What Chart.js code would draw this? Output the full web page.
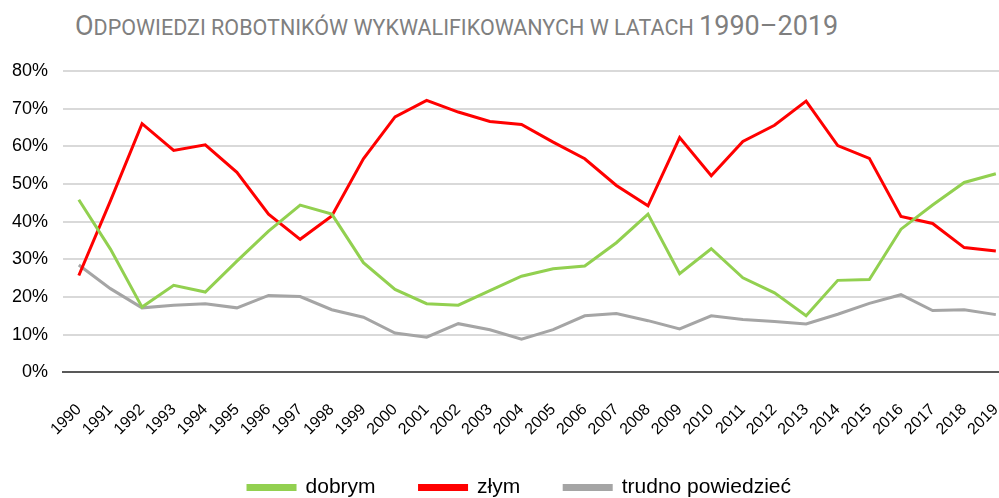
<!DOCTYPE html>
<html>
<head>
<meta charset="utf-8">
<script src="https://cdn.jsdelivr.net/npm/chart.js@4"></script>
<style>
	html, body { margin: 0; padding: 0; background: #fff; overflow: hidden; }
	#wrap { position: relative; width: 999px; height: 498px; }
	#tytul {
		position: absolute; left: 75px; top: 10px;
		font-family: Roboto, "Liberation Sans", sans-serif;
		color: #7f7f7f; font-size: 21.5px; white-space: nowrap;
	}
	#tytul .duze { font-size: 27px; }
	canvas { position: absolute; left: 0; top: 0; }
</style>
</head>
<body>
<div id="wrap">
	<div id="tytul"><span class="duze">O</span>DPOWIEDZI ROBOTNIKÓW WYKWALIFIKOWANYCH W LATACH <span class="duze">1990–2019</span></div>
	<canvas id="wykres" width="999" height="498"></canvas>
</div>
<script>
// Lata badania
const lata = [
	1990, 1991, 1992, 1993, 1994, 1995, 1996, 1997, 1998, 1999,
	2000, 2001, 2002, 2003, 2004, 2005, 2006, 2007, 2008, 2009,
	2010, 2011, 2012, 2013, 2014, 2015, 2016, 2017, 2018, 2019,
];

// Odpowiedzi w procentach
const dobrym = [
	45.8, 32.7, 17.3, 23.1, 21.3, 29.5, 37.5, 44.4, 42.0, 29.1,
	22.0, 18.2, 17.8, 21.7, 25.5, 27.5, 28.2, 34.4, 42.0, 26.2,
	32.8, 25.1, 21.1, 15.0, 24.4, 24.6, 38.0, 44.4, 50.4, 52.7,
];
const zlym = [
	25.7, 45.5, 66.0, 58.9, 60.4, 53.1, 42.0, 35.3, 41.5, 56.7,
	67.8, 72.2, 69.1, 66.6, 65.8, 61.1, 56.7, 49.6, 44.2, 62.3,
	52.2, 61.3, 65.6, 72.0, 60.2, 56.8, 41.4, 39.5, 33.1, 32.2,
];
const trudno = [
	28.5, 22.2, 17.1, 17.8, 18.2, 17.1, 20.4, 20.1, 16.6, 14.6,
	10.4, 9.3, 12.9, 11.3, 8.8, 11.3, 15.0, 15.6, 13.7, 11.5,
	15.0, 14.0, 13.5, 12.8, 15.4, 18.3, 20.6, 16.4, 16.6, 15.3,
];

// Podziałka osi Y
const podzialkaY = [0, 10, 20, 30, 40, 50, 60, 70, 80];

function punkty(wartosci) {
	return lata.map((rok, i) => ({ x: rok, y: wartosci[i] }));
}

function seria(label, wartosci, kolor) {
	return {
		label: label,
		data: punkty(wartosci),
		borderColor: kolor,
		backgroundColor: kolor,
		borderWidth: 3,
		pointRadius: 0,
		tension: 0,
	};
}

// Przesunięcie legendy (w oryginale nie jest dokładnie na środku)
const przesunLegende = {
	id: "przesunLegende",
	afterLayout(chart) {
		const lg = chart.legend;
		if (!lg) return;
		lg.left += 20;
		lg.right += 20;
		lg.top -= 26;
		lg.bottom -= 26;
	},
};

document.addEventListener("DOMContentLoaded", function () {
	const ctx = document.getElementById("wykres");
	new Chart(ctx, {
		type: "line",
		data: {
			datasets: [
				seria("dobrym", dobrym, "#92d050"),
				seria("złym", zlym, "#ff0000"),
				seria("trudno powiedzieć", trudno, "#a5a5a5"),
			],
		},
		plugins: [przesunLegende],
		options: {
			responsive: false,
			animation: false,
			layout: { padding: { top: 71, right: 0, bottom: -36, left: 0 } },
			scales: {
				x: {
					type: "linear",
					min: 1989.5,
					max: 2019.1,
					// obszar wykresu ma sięgać do prawej krawędzi
					afterFit: (scale) => {
						scale.paddingRight = 0;
						scale.paddingLeft = 0;
					},
					grid: { display: false },
					border: { display: true, color: "#595959", width: 2 },
					ticks: {
						stepSize: 1,
						includeBounds: false,
						autoSkip: false,
						maxRotation: 45,
						minRotation: 45,
						padding: 20,
						color: "#000",
						font: { family: "Liberation Sans", size: 16 },
						callback: (v) => String(v),
					},
				},
				y: {
					min: 0,
					max: 80,
					afterFit: (scale) => { scale.width = 63; },
					afterBuildTicks: (scale) => {
						scale.ticks = podzialkaY.map((v) => ({ value: v }));
					},
					grid: { color: "#d9d9d9", lineWidth: 2, drawTicks: false },
					border: { display: false },
					ticks: {
						padding: 15,
						color: "#000",
						font: { family: "Liberation Sans", size: 18 },
						callback: (v) => v + "%",
					},
				},
			},
			plugins: {
				title: { display: false },
				tooltip: { enabled: false },
				legend: {
					position: "bottom",
					labels: {
						boxWidth: 47,
						boxHeight: 4,
						padding: 44,
						color: "#000",
						font: { family: "Liberation Sans", size: 21 },
					},
				},
			},
		},
	});
});
</script>
</body>
</html>
